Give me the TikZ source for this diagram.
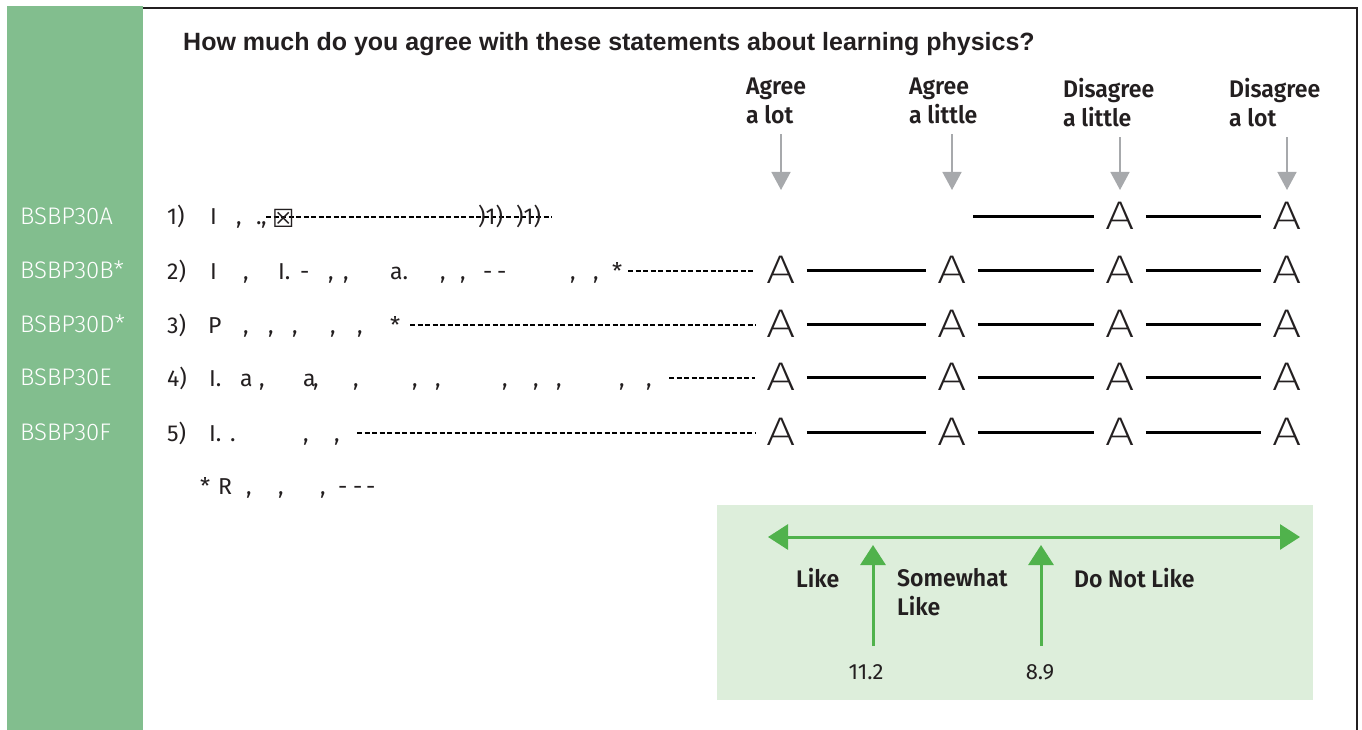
\documentclass[tikz,border=0pt]{standalone}
\usepackage{fontspec}
\setmainfont{Fira Sans}
\newfontfamily\lightfont{Fira Sans Light}
\newfontfamily\semifont{Fira Sans SemiBold}[FakeStretch=0.96]
\newfontfamily\thinfont{Fira Sans ExtraLight}[FakeStretch=1.3]
\newfontfamily\titlefont{Liberation Sans}
\newfontfamily\symbfont{DejaVu Sans}
\usepackage{tikz}
\usetikzlibrary{positioning, arrows.meta, calc}
\definecolor{stripgreen}{RGB}{130,190,142}
\definecolor{boxgreen}{RGB}{221,238,219}
\definecolor{arrowgreen}{RGB}{80,178,76}
\definecolor{arrowgray}{RGB}{167,169,172}
\definecolor{inkblack}{RGB}{35,31,32}
\tikzset{
	every node/.append style={
		inner sep=0pt,
		text=inkblack,
	},
	code/.append style={
		anchor=west,
		text=white,
		font={\lightfont\fontsize{24}{28}\selectfont}
	},
	frag/.append style={
		anchor=base west,
		font={\fontsize{23}{28}\selectfont}
	},
	header/.append style={
		anchor=north west,
		align=left,
		font={\semifont\fontsize{24}{29}\selectfont}
	},
	choice/.append style={
		inner xsep=11pt,
		font={\thinfont\fontsize{40}{40}\selectfont}
	},
	leader/.append style={
		line width=1.3pt,
		dash pattern=on 5pt off 2.5pt
	},
	rung/.append style={
		line width=3pt
	},
	grayarrow/.append style={
		arrowgray,
		line width=1.5pt,
		-{Triangle[length=18pt,width=19pt]}
	},
	greenarrow/.append style={
		arrowgreen,
		line width=3pt,
		-{Triangle[length=20pt,width=25pt]}
	},
}

\begin{document}
\begin{tikzpicture}[x=1pt, y=-1pt]
\useasboundingbox (0,0) rectangle (1362,730);

\fill[stripgreen] (7,6) rectangle (143,730);
\draw[inkblack, line width=2.5pt] (143,8) -- (1357,8) -- (1357,730);

\node(title)[anchor=base west, font={\titlefont\bfseries\fontsize{25}{30}\selectfont}] at (183,51) {How much do you agree with these statements about learning physics?};

\node(hd1)[header] at (746,78) {Agree\\a lot};
\node(hd2)[header] at (909,78) {Agree\\a little};
\node(hd3)[header] at (1063,78) {Disagree\\a little};
\node(hd4)[header] at (1229,78) {Disagree\\a lot};
\foreach \cc/\xx in {1/781, 2/952, 3/1120, 4/1287} {
	\coordinate (t\cc) at (\xx,190);
	\draw[grayarrow, shorten <=10pt] (hd\cc.south -| t\cc) -- (t\cc);
};

\foreach \rr/\yy/\cd in {1/216/BSBP30A, 2/270/BSBP30B*, 3/324/BSBP30D*, 4/377/BSBP30E, 5/432/BSBP30F} {
	\node(cd\rr)[code] at (20,\yy) {\cd};
	\node(nr\rr)[frag] at (167,\yy+9) {\rr)};
};

% row 1
\foreach \xx/\tt in {210/I, 236/{,}, 256/., 261/{,}}
	\node(f1-\xx)[frag] at (\xx,225) {\tt};
\coordinate (d1) at (266,217);
\coordinate (e1) at (552,217);
\draw[leader] (d1) -- (e1);
\node(box1)[anchor=base west, font={\symbfont\fontsize{25}{28}\selectfont}] at (272,227) {☒};
\node(p1)[frag] at (478,225) {)1)};
\node(p2)[frag] at (516,225) {)1)};
\node(a1-3)[choice] at (1120,216) {A};
\node(a1-4)[choice] at (1287,216) {A};
\coordinate (s1) at (973,216);
\draw[rung] (s1) -- (a1-3);
\draw[rung] (a1-3) -- (a1-4);

% rows 2 to 5
\foreach \xx/\tt in {210/I, 243/{,}, 278/I., 300/-, 328/{,}, 343/{,}, 390/a., 440/{,}, 460/{,}, 483/-, 497/-, 570/{,}, 593/{,}, 612/*}
	\node(f2-\xx)[frag] at (\xx,279) {\tt};
\foreach \xx/\tt in {208/P, 243/{,}, 268/{,}, 292/{,}, 330/{,}, 357/{,}, 390/*}
	\node(f3-\xx)[frag] at (\xx,333) {\tt};
\foreach \xx/\tt in {209/I., 240/a, 259/{,}, 303/a, 313/{,}, 353/{,}, 412/{,}, 435/{,}, 502/{,}, 533/{,}, 556/{,}, 619/{,}, 646/{,}}
	\node(f4-\xx)[frag] at (\xx,386) {\tt};
\foreach \xx/\tt in {209/I., 230/., 303/{,}, 334/{,}}
	\node(f5-\xx)[frag] at (\xx,441) {\tt};

\foreach \rr/\yy/\dx in {2/270/628, 3/324/410, 4/377/669, 5/432/357} {
	\foreach \cc/\xx in {1/781, 2/952, 3/1120, 4/1287}
		\node(a\rr-\cc)[choice] at (\xx,\yy) {A};
	\coordinate (d\rr) at (\dx,\yy+1);
	\draw[leader] (d\rr) -- (a\rr-1.west |- d\rr);
	\draw[rung] (a\rr-1) -- (a\rr-2);
	\draw[rung] (a\rr-2) -- (a\rr-3);
	\draw[rung] (a\rr-3) -- (a\rr-4);
};

\foreach \xx/\tt in {200/*, 218/R, 246/{,}, 278/{,}, 320/{,}, 338/-, 353/-, 366/-}
	\node(fn-\xx)[frag] at (\xx,494) {\tt};

% scale box
\fill[boxgreen] (717,505) rectangle (1313,700);
\coordinate (la) at (768,537);
\coordinate (ra) at (1300,537);
\draw[greenarrow, {Triangle[length=20pt,width=25pt]}-{Triangle[length=20pt,width=25pt]}] (la) -- (ra);

\node(like)[header, anchor=west] at (796,578) {Like};
\node(some)[header] at (897,568) {Somewhat\\Like};
\node(dont)[header, anchor=west] at (1074,578) {Do Not Like};

\node(v1)[font={\fontsize{22}{26}\selectfont}] at (866,672) {11.2};
\node(v2)[font={\fontsize{22}{26}\selectfont}] at (1040,672) {8.9};
\coordinate (u1) at (873,545);
\coordinate (u2) at (1041,545);
\draw[greenarrow, shorten <=18pt] (v1.north -| u1) -- (u1);
\draw[greenarrow, shorten <=18pt] (v2.north -| u2) -- (u2);

\end{tikzpicture}
\end{document}
